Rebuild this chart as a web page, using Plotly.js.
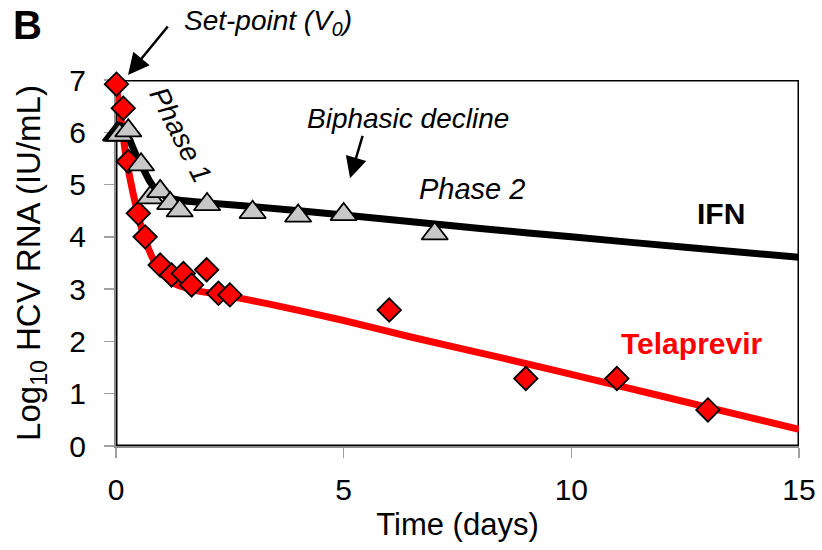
<!DOCTYPE html>
<html>
<head>
<meta charset="utf-8">
<script src="https://cdn.plot.ly/plotly-3.0.1.min.js"></script>
<style>html,body{margin:0;padding:0;background:#fff;}#chart{width:822px;height:550px;}</style>
</head>
<body>
<div id="chart"></div>
<script>
var ifnDays = [0, 0.04, 0.08, 0.27, 0.55, 0.75, 0.97, 1.19, 1.4, 2.0, 3.0, 4.0, 5.0, 7.0];
var ifnLog  = [5.95, 5.95, 5.95, 6.03, 5.38, 4.75, 4.87, 4.64, 4.5, 4.62, 4.47, 4.4, 4.43, 4.06];

var telDays = [0.01, 0.16, 0.27, 0.49, 0.64, 0.97, 1.22, 1.48, 1.66, 1.99, 2.25, 2.5, 6, 9, 11, 13];
var telLog  = [6.92, 6.46, 5.44, 4.45, 4.0, 3.46, 3.27, 3.3, 3.08, 3.37, 2.92, 2.89, 2.6, 1.29, 1.29, 0.69];

// Fitted model curves
var ifnFitDays = [0, 0.15, 0.3, 0.45, 0.6, 0.75, 0.9, 1.1, 1.4, 2, 3, 5, 8, 10, 12.5, 15];
var ifnFitLog  = [6.15, 6.1, 5.85, 5.55, 5.3, 5.05, 4.88, 4.77, 4.70, 4.65, 4.58, 4.42, 4.16, 4.0, 3.8, 3.61];

var telFitDays = [0, 0.1, 0.2, 0.3, 0.45, 0.6, 0.8, 1.0, 1.3, 1.7, 2.4, 3.4, 5, 6.5, 8.5, 11, 13, 15];
var telFitLog  = [6.92, 6.3, 5.65, 5.15, 4.55, 4.05, 3.6, 3.3, 3.1, 2.98, 2.88, 2.71, 2.4, 2.08, 1.68, 1.16, 0.74, 0.32];

var xTicks = [0, 5, 10, 15];
var yTicks = [0, 1, 2, 3, 4, 5, 6, 7];

var FONT = 'Liberation Sans, Arial, Helvetica, sans-serif';

var traces = [
  {x: telFitDays, y: telFitLog, mode: 'lines', line: {color: '#ff0000', width: 7, shape: 'spline', smoothing: 0.5}, hoverinfo: 'skip', showlegend: false},
  {x: ifnFitDays, y: ifnFitLog, mode: 'lines', line: {color: '#000000', width: 7, shape: 'spline', smoothing: 0.5}, hoverinfo: 'skip', showlegend: false},
  {x: telDays, y: telLog, mode: 'markers', cliponaxis: false,
   marker: {symbol: 'diamond', size: 18, color: '#ff0000', line: {color: '#000', width: 1.8}}, showlegend: false},
  {x: ifnDays, y: ifnLog, mode: 'markers', cliponaxis: false,
   marker: {symbol: 'triangle-up', size: 23, color: '#c8c8c8', line: {color: '#000', width: 1.8}}, showlegend: false}
];

var layout = {
  width: 822, height: 550,
  margin: {l: 116, r: 23, t: 80, b: 104},
  paper_bgcolor: '#fff', plot_bgcolor: '#fff',
  font: {family: FONT, color: '#000', size: 28},
  showlegend: false,
  xaxis: {
    range: [0, 15], tickvals: xTicks, ticktext: xTicks.map(String),
    showgrid: false, zeroline: false, showline: true, linecolor: '#8c8c8c', linewidth: 2,
    ticks: 'outside', ticklen: 10, tickwidth: 1.5, tickcolor: '#a0a0a0',
    tickfont: {family: FONT, size: 30}, ticklabelstandoff: 6,
    layer: 'below traces',
    title: {text: 'Time (days)', font: {family: FONT, size: 31}, standoff: 8}
  },
  yaxis: {
    range: [0, 7], tickvals: yTicks, ticktext: yTicks.map(String),
    showgrid: false, zeroline: false, showline: true, linecolor: '#8c8c8c', linewidth: 2,
    ticks: 'outside', ticklen: 10, tickwidth: 1.5, tickcolor: '#a0a0a0',
    tickfont: {family: FONT, size: 30}, ticklabelstandoff: 12,
    layer: 'below traces',
    title: {text: 'Log<sub>10</sub> HCV RNA (IU/mL)', font: {family: FONT, size: 33}, standoff: 19}
  },
  shapes: [
    {type: 'rect', xref: 'x', yref: 'y', x0: 0, x1: 15, y0: 0, y1: 7, layer: 'below',
     line: {color: '#000', width: 3}, fillcolor: 'rgba(0,0,0,0)'}
  ],
  annotations: [
    {xref: 'paper', yref: 'paper', x: -0.13, y: 1.15, text: '<b>B</b>', showarrow: false,
     font: {family: FONT, size: 40, color: '#000'}, xanchor: 'center', yanchor: 'middle'},
    {xref: 'paper', yref: 'paper', x: 0.2225, y: 1.158, text: '<i>Set-point (V<sub>0</sub>)</i>', showarrow: false,
     font: {family: FONT, size: 28}, xanchor: 'center', yanchor: 'middle'},
    {xref: 'paper', yref: 'paper', x: 0.0176, y: 1.0137, text: '', showarrow: true, ax: 41, ay: -50,
     arrowhead: 2, arrowsize: 1.7, arrowwidth: 2.5, arrowcolor: '#000', standoff: 0},
    {xref: 'x', yref: 'y', x: 1.41, y: 5.95, text: '<i>Phase 1</i>', showarrow: false, textangle: 63,
     font: {family: FONT, size: 28}, xanchor: 'center', yanchor: 'middle'},
    {xref: 'x', yref: 'y', x: 6.41, y: 6.27, text: '<i>Biphasic decline</i>', showarrow: false,
     font: {family: FONT, size: 28}, xanchor: 'center', yanchor: 'middle'},
    {xref: 'x', yref: 'y', x: 5.14, y: 5.12, text: '', showarrow: true, ax: 13, ay: -44,
     arrowhead: 2, arrowsize: 1.7, arrowwidth: 2.5, arrowcolor: '#000', standoff: 0},
    {xref: 'x', yref: 'y', x: 7.82, y: 4.91, text: '<i>Phase 2</i>', showarrow: false,
     font: {family: FONT, size: 29}, xanchor: 'center', yanchor: 'middle'},
    {xref: 'x', yref: 'y', x: 13.29, y: 4.455, text: '<b>IFN</b>', showarrow: false,
     font: {family: FONT, size: 30, color: '#000'}, xanchor: 'center', yanchor: 'middle'},
    {xref: 'x', yref: 'y', x: 12.65, y: 1.97, text: '<b>Telaprevir</b>', showarrow: false,
     font: {family: FONT, size: 30, color: '#ff0000'}, xanchor: 'center', yanchor: 'middle'}
  ]
};

Plotly.newPlot('chart', traces, layout, {displayModeBar: false, staticPlot: true});
</script>
</body>
</html>
